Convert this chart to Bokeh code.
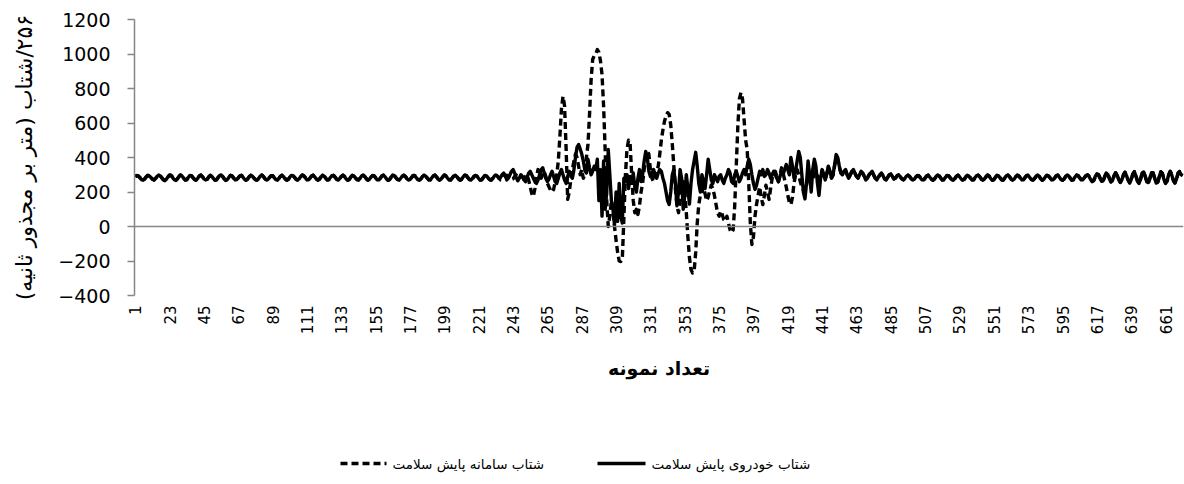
import math
from bokeh.plotting import figure
from bokeh.models import Range1d, FixedTicker, Span
from bokeh.layouts import column
from bokeh.embed import file_html
from bokeh.resources import INLINE
from bokeh.core.properties import value

# ---------------- data ----------------
series_solid_name = "شتاب خودروی پایش سلامت"
series_dashed_name = "شتاب سامانه پایش سلامت"

solid_vals = [
    290,296,292,282,272,268,276,288,297,294,284,274,270,279,291,298,293,281,270,266,
    275,289,299,295,283,271,267,277,290,300,292,279,269,272,285,296,294,282,271,268,
    280,293,298,288,276,270,274,287,297,291,279,268,271,284,295,299,289,275,267,273,
    286,297,293,280,270,272,283,294,296,286,274,268,276,289,298,292,280,271,269,278,
    291,299,290,277,269,273,285,295,294,283,272,270,279,292,297,288,276,268,274,286,
    296,295,284,273,269,277,290,299,293,281,270,271,282,294,297,287,275,268,275,288,
    298,292,279,270,272,284,295,296,285,273,269,278,291,298,290,277,268,273,286,297,
    294,282,271,270,280,293,299,289,276,268,274,287,296,293,281,271,270,281,294,298,
    288,275,267,274,288,299,294,282,272,270,279,292,297,289,277,269,273,285,296,295,
    283,272,269,277,290,298,292,280,270,271,283,295,297,286,274,268,276,289,299,293,
    281,271,270,281,293,297,288,276,268,274,287,298,295,283,272,269,278,291,296,290,
    278,268,272,285,296,294,282,271,269,279,292,299,291,279,
    285,300,310,295,270,280,300,320,330,310,285,265,280,300,290,270,260,285,310,320,300,
    280,260,250,270,300,330,340,310,280,260,275,300,320,290,260,250,280,310,330,300,270,250,290,320,300,280,330,
    400,460,475,450,420,380,330,310,390,340,300,320,350,330,
    390,150,330,60,380,100,200,446,300,150,100,10,200,30,250,60,20,280,
    260,300,220,290,250,310,230,200,280,330,260,300,380,435,400,320,290,310,330,300,280,310,330,
    320,280,250,200,150,127,200,300,330,250,120,200,330,280,100,180,300,220,130,250,
    330,380,430,350,250,200,300,260,220,300,390,330,270,250,300,280,260,290,300,270,250,280,300,
    330,310,260,250,300,320,290,260,280,310,330,300,350,390,360,300,250,215,240,280,320,300,330,290,300,330,310,280,300,320,
    300,280,260,290,320,300,330,360,330,300,400,350,280,320,380,435,400,300,200,160,
    250,380,300,200,330,390,350,250,180,280,330,300,270,310,350,320,280,300,360,417,
    400,350,310,300,320,330,300,280,300,320,
    330,310,290,280,300,320,310,290,270,280,300,310,320,300,280,270,285,300,310,295,
    275,270,285,300,305,290,275,280,295,300,
    288,276,270,279,292,298,290,277,269,274,287,296,293,281,271,270,282,294,297,286,
    274,268,277,290,299,292,279,269,272,285,296,294,282,271,268,279,292,298,289,276,
    269,274,288,297,293,280,270,271,284,295,297,287,274,268,276,290,299,291,278,268,
    273,286,297,294,281,270,270,282,294,298,288,275,268,275,289,298,293,280,270,272,
    285,296,296,284,272,269,278,291,299,290,277,268,274,288,297,293,281,270,271,283,
    295,297,286,273,268,277,291,299,292,278,268,273,287,298,294,281,270,271,284,296,
    300,290,272,260,268,290,305,300,280,262,265,290,310,302,278,258,266,295,312,298,
    272,255,270,300,315,295,268,252,272,305,318,292,262,250,276,310,316,288,258,255,
    282,312,310,280,252,258,290,318,305,272,250,265,300,320,298,266,252,275,310,318,300,295,
]

dashed_vals = [
    288,295,293,284,274,269,275,287,296,295,285,275,270,278,290,297,294,283,272,267,
    274,287,298,296,285,273,268,276,289,299,293,281,270,271,284,295,295,284,273,269,
    279,292,298,290,278,271,273,286,296,292,281,270,270,283,294,298,290,277,268,272,
    285,296,294,282,271,271,282,293,297,288,276,269,275,288,297,293,282,272,269,277,
    290,298,291,279,270,272,284,294,295,285,274,270,278,291,297,289,278,269,273,285,
    295,296,286,275,270,276,289,298,294,283,272,270,281,293,298,289,277,269,274,287,
    297,293,281,271,271,283,294,297,287,275,270,277,290,297,291,279,269,272,285,296,
    295,284,273,270,279,292,298,290,278,269,273,286,295,294,283,272,269,280,293,297,
    290,277,268,273,287,298,295,284,273,270,278,291,297,291,279,270,272,284,295,296,
    285,274,269,276,289,297,293,282,271,270,282,294,298,288,276,269,275,288,298,294,
    283,272,269,280,292,297,290,278,269,273,286,297,296,285,274,269,277,290,296,291,
    280,270,271,284,295,295,284,273,269,278,291,298,292,281,271,270,282,293,297,288,
    278,272,276,290,298,293,284,288,286,
    280,290,300,270,230,190,174,220,290,330,310,280,300,320,290,250,230,210,200,215,
    260,300,380,520,680,754,700,450,157,200,270,330,380,420,400,350,300,330,280,300,400,
    475,650,850,968,990,1000,1026,1010,960,881,700,446,150,0,60,150,100,0,-80,-150,
    -200,-203,-190,50,300,450,500,480,300,150,80,100,70,120,200,250,330,400,435,420,
    330,280,260,300,320,350,420,500,560,610,640,660,650,590,480,350,220,120,80,150,
    230,260,200,80,-60,-180,-250,-270,-260,-150,20,130,180,200,230,190,150,170,210,240,
    220,180,130,80,60,90,70,40,30,60,20,-20,-35,-20,120,350,580,740,776,740,
    620,500,446,250,20,-104,-60,60,130,180,230,170,127,180,240,200,157,220,280,
    300,320,290,260,300,340,310,270,230,180,140,127,170,250,300,330,300,260,230,210,
    200,240,290,310,290,270,300,320,295,280,290,
    325,300,275,305,345,318,282,298,350,400,390,345,312,302,318,326,302,283,298,316,
    326,308,292,282,298,316,308,292,272,282,298,308,316,298,282,272,286,298,308,294,
    277,272,286,298,303,291,277,281,294,298,
    289,278,271,278,290,297,291,279,270,273,285,295,294,283,272,269,280,293,298,288,
    276,269,275,288,298,294,281,270,271,283,295,295,284,273,268,277,290,297,291,278,
    270,273,286,296,295,282,271,270,282,294,298,289,276,268,274,288,298,293,280,269,
    271,284,296,295,283,272,269,280,292,298,290,277,269,273,287,297,294,282,271,271,
    283,295,297,286,274,269,276,289,298,292,279,269,272,286,296,294,283,272,270,281,
    293,298,288,275,268,275,289,298,294,280,269,271,285,297,296,283,272,270,282,294,
    299,292,275,262,266,287,303,302,283,264,263,287,308,304,281,260,264,292,311,301,
    275,257,268,297,314,298,271,254,269,302,317,295,265,251,273,307,317,291,261,254,
    279,309,312,283,255,256,287,316,308,275,252,263,297,319,301,269,253,272,307,319,303,296,
]

x_tick_labels = [1, 23, 45, 67, 89, 111, 133, 155, 177, 199, 221, 243, 265, 287, 309, 331,
                 353, 375, 397, 419, 441, 463, 485, 507, 529, 551, 573, 595, 617, 639, 661]
y_ticks = [-400, -200, 0, 200, 400, 600, 800, 1000, 1200]

y_title = "\u200F۲۵۶/شتاب (متر بر مجذور ثانیه)"
x_title = "تعداد نمونه"

n = max(len(solid_vals), len(dashed_vals))
x_solid = list(range(1, len(solid_vals) + 1))
x_dashed = list(range(1, len(dashed_vals) + 1))

AX = "#868686"
TICK_FONT = "DejaVu Sans"
FA_FONT = "DejaVu Sans"

p = figure(width=1184, height=410, output_backend="svg", toolbar_location=None,
           x_range=Range1d(0.5, n + 0.5), y_range=Range1d(-400, 1200),
           min_border_left=134, min_border_right=1, min_border_top=19, min_border_bottom=115)
p.outline_line_color = None
p.grid.visible = False
p.background_fill_color = "white"
p.border_fill_color = "white"

p.line(x_solid, solid_vals, line_color="black", line_width=3.4, line_join="round")
p.line(x_dashed, dashed_vals, line_color="black", line_width=3.4, line_dash="7 4",
       line_join="round")

p.add_layout(Span(location=0, dimension="width", line_color=AX, line_width=1.5))

yax = p.yaxis[0]
yax.ticker = FixedTicker(ticks=y_ticks)
yax.axis_line_color = AX
yax.axis_line_width = 1.5
yax.major_tick_line_color = AX
yax.major_tick_line_width = 1.5
yax.major_tick_in = 0
yax.major_tick_out = 7
yax.minor_tick_line_color = None
yax.major_label_standoff = 17
yax.major_label_text_font = TICK_FONT
yax.major_label_text_font_size = "19px"
yax.major_label_text_color = "black"
yax.axis_label = y_title
yax.axis_label_text_font = FA_FONT
yax.axis_label_text_font_size = "22px"
yax.axis_label_text_font_style = "normal"
yax.axis_label_text_color = "black"
yax.axis_label_standoff = 18

xax = p.xaxis[0]
xax.ticker = FixedTicker(ticks=x_tick_labels)
xax.axis_line_color = None
xax.major_tick_line_color = None
xax.minor_tick_line_color = None
xax.major_label_orientation = math.pi / 2
xax.major_label_standoff = 4
xax.major_label_text_font = TICK_FONT
xax.major_label_text_font_size = "15px"
xax.major_label_text_color = "black"
xax.axis_label = x_title
xax.axis_label_text_font = FA_FONT
xax.axis_label_text_font_size = "19px"
xax.axis_label_text_font_style = "bold"
xax.axis_label_text_color = "black"
xax.axis_label_standoff = 20

# ---------------- legend strip (frame aligned with the plot frame; x in page pixels) ----------------
lg = figure(width=1184, height=74, output_backend="svg", toolbar_location=None,
            x_range=Range1d(134, 1183), y_range=Range1d(74, 0),
            x_axis_location=None, y_axis_location=None,
            min_border_left=134, min_border_right=1,
            min_border_top=0, min_border_bottom=0)
lg.outline_line_color = None
lg.grid.visible = False
lg.background_fill_color = "white"
lg.border_fill_color = "white"

lg.line(x=[340, 386], y=[53, 53], line_color="black", line_width=3.4, line_dash="7 4")
lg.text(x=[392], y=[53], text=[series_dashed_name], text_align="left", text_baseline="middle",
        text_font=value(FA_FONT), text_font_size="13.5px", text_color="black")
lg.line(x=[597, 645], y=[53, 53], line_color="black", line_width=3.4)
lg.text(x=[651], y=[53], text=[series_solid_name], text_align="left", text_baseline="middle",
        text_font=value(FA_FONT), text_font_size="13.5px", text_color="black")

layout = column(p, lg, spacing=0)
open("out.html", "w").write(file_html(layout, INLINE))
